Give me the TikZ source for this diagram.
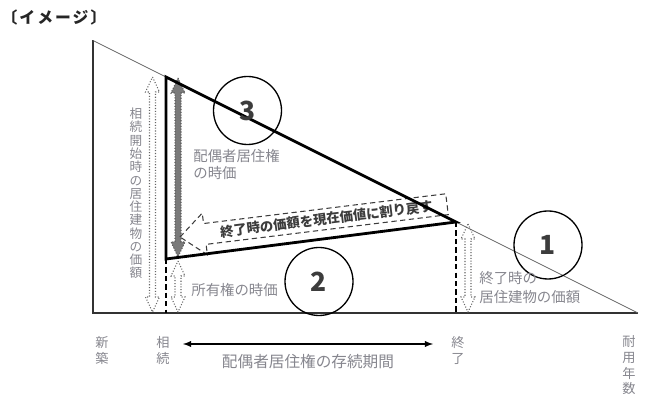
\documentclass[tikz,border=0pt]{standalone}
\usepackage{fontspec}
\setmainfont{Noto Sans CJK JP}
\definecolor{labelgray}{HTML}{86868E}
\definecolor{shaftgray}{HTML}{7A7A7A}
\definecolor{textdark}{HTML}{3C3C3C}

\newcommand{\blockarrow}[4][]{%
  \draw[#1] (#2, #3) -- ({#2 + 0.14}, {#3 - 0.3}) -- ({#2 + 0.06}, {#3 - 0.3})
    -- ({#2 + 0.06}, {#4 + 0.3}) -- ({#2 + 0.14}, {#4 + 0.3}) -- (#2, #4)
    -- ({#2 - 0.14}, {#4 + 0.3}) -- ({#2 - 0.06}, {#4 + 0.3})
    -- ({#2 - 0.06}, {#3 - 0.3}) -- ({#2 - 0.14}, {#3 - 0.3}) -- cycle;}

\begin{document}
\begin{tikzpicture}[
    note/.style={text=labelgray, font=\fontsize{8.2}{9.6}\selectfont, inner sep=0pt},
    vnote/.style={note, align=center, font=\fontsize{7.5}{9.6}\selectfont},
    numcircle/.style={draw, circle, line width=0.75pt, minimum size=1.36cm, inner sep=0pt,
        font=\fontsize{15}{15}\selectfont\bfseries, text=textdark},
    hollow/.style={draw=black!60, densely dotted, line width=0.6pt},
    dropline/.style={line width=1pt, dash pattern=on 3pt off 1.8pt}
]
    %\draw[lightgray] (0, 0) grid (13, 8);
    \useasboundingbox (0, 0) rectangle (13.02, 8);
    \coordinate (new) at (1.86, 1.74);
    \coordinate (peak) at (1.86, 7.19);
    \coordinate (life) at (12.76, 1.74);
    \coordinate (start) at (3.32, 6.46);
    \coordinate (finish) at (9.12, 3.56);
    \coordinate (base) at (3.32, 2.82);
    \node[font=\fontsize{9}{9}\selectfont\bfseries\addfontfeature{LetterSpace=13}, text=black!85] (title) at (1.08, 7.65) {〔イメージ〕};
    \draw[line width=0.7pt, black!80] (peak) -- (new) -- (life);
    \draw[line width=0.4pt, black!60] (peak) -- (life);
    \draw[dropline] (base) -- (base |- new);
    \draw[dropline] (finish) -- (finish |- new);
    \blockarrow[hollow, fill=white]{3.05}{6.46}{1.76}
    \blockarrow[draw=black!65, densely dotted, line width=0.6pt, fill=shaftgray]{3.56}{6.44}{2.86}
    \blockarrow[hollow, fill=white]{3.56}{2.78}{1.76}
    \blockarrow[hollow]{9.36}{3.52}{1.76}
    \begin{scope}[shift={(3.6, 3.26)}, rotate=7]
        \draw[textdark, line width=0.6pt, dash pattern=on 3pt off 2pt] (0, 0) -- (0.5, 0.42) -- (0.5, 0.21) -- (5.38, 0.21) -- (5.38, -0.21) -- (0.5, -0.21) -- (0.5, -0.42) -- cycle;
        \node[transform shape, text=textdark, font=\fontsize{7.6}{7.6}\selectfont\bfseries] (discount) at (2.95, 0) {終了時の価額を現在価値に割り戻す};
    \end{scope}
    \draw[line width=1.6pt, line join=miter] (start) -- (finish) -- (base) -- cycle;
    \node[numcircle] (one) at (10.96, 3.1) {1};
    \node[numcircle] (two) at (6.38, 2.37) {2};
    \node[numcircle] (three) at (4.95, 5.79) {3};
    \node[vnote, font=\fontsize{7.2}{7.55}\selectfont] (valstart) at (2.72, 4.13) {相\\続\\開\\始\\時\\の\\居\\住\\建\\物\\の\\価\\額};
    \node[note, anchor=west, align=left] (rightval) at (3.86, 4.71) {配偶者居住権\\の時価};
    \node[note, anchor=west] (ownval) at (3.82, 2.2) {所有権の時価};
    \node[note, anchor=west, align=left, font=\fontsize{8.2}{10.8}\selectfont] (endval) at (9.58, 2.25) {終了時の\\居住建物の価額};
    \node[vnote] (shinchiku) at (2.04, 0.99) {新\\築};
    \node[vnote] (sozoku) at (3.26, 0.99) {相\\続};
    \node[vnote] (shuryo) at (9.16, 0.99) {終\\了};
    \node[vnote, font=\fontsize{7.5}{8.9}\selectfont] (taiyo) at (12.58, 0.69) {耐\\用\\年\\数};
    \coordinate (spanL) at (3.66, 1.12);
    \coordinate (spanR) at (8.66, 1.12);
    \draw[latex-latex, line width=0.6pt] (spanL) -- (spanR) node[midway, below=0.2cm, note, font=\fontsize{8.9}{8.9}\selectfont] (period) {配偶者居住権の存続期間};
\end{tikzpicture}
\end{document}
